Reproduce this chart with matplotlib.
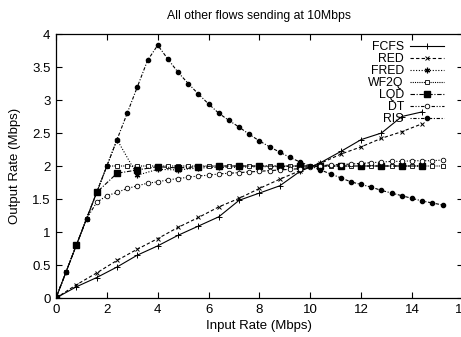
import numpy as np
import matplotlib
matplotlib.use('Agg')
import matplotlib.pyplot as plt

# input rates (Mbps)
x_coarse = [0, 0.8, 1.6, 2.4, 3.2, 4.0, 4.8, 5.6, 6.4, 7.2, 8.0, 8.8, 9.6,
            10.4, 11.2, 12.0, 12.8, 13.6, 14.4]
x_fine = [0, 0.4, 0.8, 1.2, 1.6, 2.0, 2.4, 2.8, 3.2, 3.6, 4.0, 4.4, 4.8, 5.2,
          5.6, 6.0, 6.4, 6.8, 7.2, 7.6, 8.0, 8.4, 8.8, 9.2, 9.6, 10.0, 10.4,
          10.8, 11.2, 11.6, 12.0, 12.4, 12.8, 13.2, 13.6, 14.0, 14.4, 14.8, 15.2]

# output rates (Mbps)
fcfs = [0, 0.17, 0.31, 0.47, 0.65, 0.79, 0.95, 1.09, 1.23, 1.48, 1.59, 1.70,
        1.92, 2.05, 2.22, 2.40, 2.50, 2.75, 2.82]
red = [0, 0.20, 0.38, 0.57, 0.74, 0.90, 1.07, 1.22, 1.38, 1.51, 1.66, 1.80,
       1.93, 2.04, 2.18, 2.29, 2.42, 2.52, 2.64]
fred = [0, 0.8, 1.6, 2.4, 1.86, 1.95, 1.94, 1.97, 1.98, 1.98, 1.99, 1.99,
        2.0, 2.0, 2.0, 2.0, 2.0, 2.0, 2.0]
wf2q = [0, 0.4, 0.8, 1.2, 1.6, 2.0, 2.0, 2.0, 2.0, 2.0, 2.0, 2.0, 2.0, 2.0,
        2.0, 2.0, 2.0, 2.0, 2.0, 2.0, 2.0, 2.0, 2.0, 2.0, 2.0, 2.0, 2.0,
        2.0, 2.0, 2.0, 2.0, 2.0, 2.0, 2.0, 2.0, 2.0, 2.0, 2.0, 2.0]
lqd = [0, 0.8, 1.6, 1.89, 1.94, 1.99, 1.97, 1.99, 2.0, 2.0, 2.0, 2.0, 2.0,
       2.0, 2.0, 2.0, 2.0, 2.0, 2.0]
dt = [0, 0.4, 0.8, 1.2, 1.45, 1.55, 1.60, 1.66, 1.70, 1.74, 1.76, 1.79, 1.81,
      1.83, 1.85, 1.86, 1.88, 1.89, 1.90, 1.91, 1.92, 1.93, 1.94, 1.95, 1.96,
      1.98, 2.0, 2.02, 2.02, 2.03, 2.04, 2.05, 2.06, 2.07, 2.07, 2.08, 2.08,
      2.08, 2.09]
ris = [0, 0.4, 0.8, 1.2, 1.6, 2.0, 2.4, 2.8, 3.2, 3.6, 3.83, 3.62, 3.42, 3.25,
       3.09, 2.94, 2.80, 2.69, 2.59, 2.48, 2.38, 2.29, 2.21, 2.13, 2.06, 2.0,
       1.94, 1.88, 1.82, 1.76, 1.72, 1.68, 1.63, 1.59, 1.55, 1.51, 1.47, 1.44,
       1.41]

plt.rcParams['font.family'] = ['Liberation Sans', 'DejaVu Sans']

fig = plt.figure(figsize=(4.61, 3.37), dpi=100)
ax = fig.add_axes([0.1215, 0.1157, 0.8825, 0.7834])

lw = 0.8
ax.plot(x_coarse, fcfs, color='black', lw=lw, ls='-', marker='+', ms=4.5, mew=0.7, label='FCFS')
ax.plot(x_coarse, red, color='black', lw=lw, ls=(0, (3, 2)), marker='x', ms=3.5, mew=0.7, label='RED')
ax.plot(x_coarse, fred, color='black', lw=lw, ls=(0, (1, 1.5)), marker=(6, 2, 0), ms=4, mew=0.9, label='FRED')
ax.plot(x_fine, wf2q, color='black', lw=lw, ls=(0, (1, 1)), marker='s', ms=3.3, mfc='white', mew=0.6, label='WF2Q')
ax.plot(x_coarse, lqd, color='black', lw=lw, ls=(0, (4, 1.5, 1, 1.5)), marker='s', ms=4.2, label='LQD')
ax.plot(x_fine, dt, color='black', lw=lw, ls=(0, (3, 1.5, 1, 1.5, 1, 1.5)), marker='o', ms=3.3, mfc='white', mew=0.6, label='DT')
ax.plot(x_fine, ris, color='black', lw=lw, ls=(0, (1, 1.5, 3, 1.5)), marker='o', ms=3.0, label='RIS')

ax.set_xlim(0, 16)
ax.set_ylim(0, 4)
ax.set_xticks(np.arange(0, 17, 2))
ax.set_yticks(np.arange(0, 4.01, 0.5))
ax.set_yticklabels(['0', '0.5', '1', '1.5', '2', '2.5', '3', '3.5', '4'])
ax.tick_params(direction='in', top=True, right=True, labelsize=9.5, length=4, width=0.8, pad=4)
for s in ax.spines.values():
    s.set_linewidth(0.9)

ax.set_title('All other flows sending at 10Mbps', fontsize=8.8, pad=11)
ax.set_xlabel('Input Rate (Mbps)', fontsize=9.5, labelpad=3)
ax.set_ylabel('Output Rate (Mbps)', fontsize=9.5, labelpad=8)

ax.legend(loc='upper right', bbox_to_anchor=(0.975, 1.005), markerfirst=False, frameon=False,
          fontsize=8.8, labelspacing=0.0, handlelength=2.8, handletextpad=0.5, borderpad=0.2)

fig.savefig('out.png', dpi=100)
